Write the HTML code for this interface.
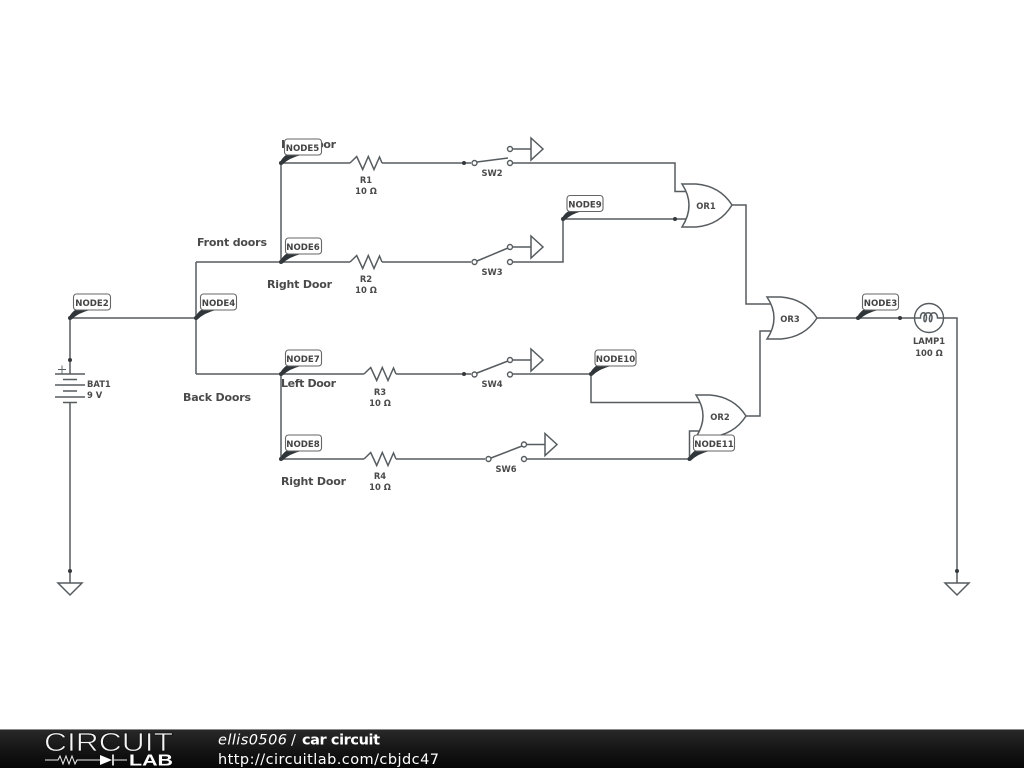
<!DOCTYPE html>
<html><head><meta charset="utf-8"><style>
html,body{margin:0;padding:0;background:#fff;width:1024px;height:768px;overflow:hidden}
svg{display:block}
.w{fill:none;stroke:#565c5f;stroke-width:1.5}
.c{fill:#fff;stroke:#565c5f;stroke-width:1.4}
.d{fill:#33393c}
.f{fill:#2f3538}
.b{fill:#fff;stroke:#666;stroke-width:1.1}
.n{font:bold 8.6px "DejaVu Sans",sans-serif;fill:#444;text-anchor:middle}
.l{font:bold 8.4px "DejaVu Sans",sans-serif;fill:#4a4a4a;text-anchor:middle}
.t{font:bold 11px "DejaVu Sans",sans-serif;fill:#4a4a4a}
#ckt{filter:blur(.3px)}
</style></head><body>
<svg width="1024" height="768" viewBox="0 0 1024 768" xmlns="http://www.w3.org/2000/svg">
<defs><linearGradient id="g" x1="0" y1="0" x2="0" y2="1"><stop offset="0" stop-color="#2a2a2a"/><stop offset="0.5" stop-color="#161616"/><stop offset="1" stop-color="#060606"/></linearGradient></defs>
<rect width="1024" height="768" fill="#fff"/>
<g id="ckt">
<!-- wires -->
<path class="w" d="M70 318H196M196 262V374M196 262H350M281 163V262M281 163H350M382 163H471M382 262H471M196 374H364M281 374V459M281 459H364M396 374H471M396 459H485"/>
<path class="w" d="M70 318V374M70 402V583M58 583H82L70 595Z"/>
<path class="w" d="M513 163H675V191.500H687M513 262H563V219H687"/>
<path class="w" d="M513 374H591V402.500H701M527 459H689.500V431H700"/>
<path class="w" d="M732 205H746V304H772M746 416H760V331H772M817 318H914M944 318H957V583M945 583H969L957 595Z"/>

<!-- resistors -->
<path class="w" d="M350 163l6.700-6.500 6 13 5.600-13 5.700 13 5.500-12.500 2.500 6"/>
<path class="w" d="M350 262l6.700-6.500 6 13 5.600-13 5.700 13 5.500-12.500 2.500 6"/>
<path class="w" d="M364 374l6.700-6.500 6 13 5.600-13 5.700 13 5.500-12.500 2.500 6"/>
<path class="w" d="M364 459l6.700-6.500 6 13 5.600-13 5.700 13 5.500-12.500 2.500 6"/>

<!-- switches -->
<g>
<path class="w" d="M477 162L508 158M513 149H531M531 138L543 149L531 160Z"/>
<circle class="c" cx="474.500" cy="163" r="2.500"/><circle class="c" cx="510" cy="149" r="2.500"/><circle class="c" cx="510" cy="163" r="2.500"/>
<path class="w" d="M477 261L508 248M513 247H531M531 236L543 247L531 258Z"/>
<circle class="c" cx="474.500" cy="262" r="2.500"/><circle class="c" cx="510" cy="247" r="2.500"/><circle class="c" cx="510" cy="262" r="2.500"/>
<path class="w" d="M477 373L508 361M513 360H531M531 349L543 360L531 371Z"/>
<circle class="c" cx="474.500" cy="374.500" r="2.500"/><circle class="c" cx="510" cy="360" r="2.500"/><circle class="c" cx="510" cy="374.500" r="2.500"/>
<path class="w" d="M491 458L522 446M527 444.500H545M545 433.500L557 444.500L545 455.500Z"/>
<circle class="c" cx="488.500" cy="459" r="2.500"/><circle class="c" cx="524" cy="444.500" r="2.500"/><circle class="c" cx="524" cy="459" r="2.500"/>
</g>

<!-- OR gates -->
<path class="w" style="fill:#fff" d="M682 184Q696 205 682 227H696Q720 225 732 205Q720 186 696 184Z"/>
<path class="w" style="fill:#fff" d="M767 297Q781 318 767 339H781Q805 337 817 318Q805 299 781 297Z"/>
<path class="w" style="fill:#fff" d="M696 395Q710 416 696 437H710Q734 435 746 416Q734 397 710 395Z"/>

<!-- battery -->
<path class="w" d="M55 374H85M63 379.500H77M55 385H85M63 391H77M55 397H85M63 402.500H77"/>
<path class="w" style="stroke-width:.9" d="M58 369.500H66M62 365.500V373.500"/>

<!-- lamp -->
<circle class="c" cx="929" cy="318" r="14.500" style="fill:#fff"/>
<path class="w" d="M914.500 318H920.500C920 311 927 311 926.500 318C926 323 923.500 323 924 318C924 311 932.500 311 932 318C931.500 323 929 323 929.500 318C930 311 937.500 311 937.500 318H943.500"/>

<!-- dots -->
<g class="d">
<circle cx="464" cy="163" r="2"/><circle cx="464" cy="374" r="2"/>
<circle cx="675" cy="219" r="2"/><circle cx="70" cy="360" r="2"/><circle cx="900" cy="318" r="2"/>
<circle cx="70" cy="571" r="2"/><circle cx="957" cy="571" r="2"/>
</g>

<!-- component labels -->
<text class="l" x="366" y="183">R1</text><text class="l" x="366" y="194">10 Ω</text>
<text class="l" x="366" y="282">R2</text><text class="l" x="366" y="293">10 Ω</text>
<text class="l" x="380" y="395">R3</text><text class="l" x="380" y="406">10 Ω</text>
<text class="l" x="380" y="479">R4</text><text class="l" x="380" y="490">10 Ω</text>
<text class="l" x="492" y="176">SW2</text><text class="l" x="492" y="275">SW3</text>
<text class="l" x="492" y="387">SW4</text><text class="l" x="506" y="472">SW6</text>
<text class="l" x="706" y="209">OR1</text><text class="l" x="790" y="322">OR3</text><text class="l" x="720" y="420">OR2</text>
<text class="l" x="929" y="344">LAMP1</text><text class="l" x="929" y="356">100 Ω</text>
<text class="l" x="87" y="387" style="text-anchor:start">BAT1</text><text class="l" x="87" y="398" style="text-anchor:start">9 V</text>

<!-- text labels -->
<text class="t" x="281" y="148" textLength="55" lengthAdjust="spacing">Left Door</text>
<text class="t" x="197" y="246" textLength="70" lengthAdjust="spacing">Front doors</text>
<text class="t" x="267" y="288" textLength="65" lengthAdjust="spacing">Right Door</text>
<text class="t" x="183" y="401" textLength="68" lengthAdjust="spacing">Back Doors</text>
<text class="t" x="281" y="387" textLength="55" lengthAdjust="spacing">Left Door</text>
<text class="t" x="281" y="485" textLength="65" lengthAdjust="spacing">Right Door</text>

<!-- node flags -->
<g>
<path class="f" d="M68.500 318Q71 313 75 310H90Q78 313 71.500 319.500Z"/><circle class="d" cx="70" cy="318" r="2"/><rect class="b" x="73.500" y="294" width="37" height="16" rx="3"/><text class="n" x="92" y="306">NODE2</text>
<path class="f" d="M194.500 318Q197 313 201 310H216Q204 313 197.500 319.500Z"/><circle class="d" cx="196" cy="318" r="2"/><rect class="b" x="200.500" y="294" width="36" height="16" rx="3"/><text class="n" x="218.500" y="306">NODE4</text>
<path class="f" d="M279.500 163Q282 158 286 155H301Q289 158 282.500 164.500Z"/><circle class="d" cx="281" cy="163" r="2"/><rect class="b" x="284.500" y="139" width="37" height="16" rx="3"/><text class="n" x="302.500" y="151">NODE5</text>
<path class="f" d="M279.500 262Q282 257 286 254H301Q289 257 282.500 263.500Z"/><circle class="d" cx="281" cy="262" r="2"/><rect class="b" x="285.500" y="238" width="36" height="16" rx="3"/><text class="n" x="303" y="250">NODE6</text>
<path class="f" d="M279.500 374Q282 369 286 366H301Q289 369 282.500 375.500Z"/><circle class="d" cx="281" cy="374" r="2"/><rect class="b" x="285.500" y="350" width="36" height="16" rx="3"/><text class="n" x="303" y="362">NODE7</text>
<path class="f" d="M279.500 459Q282 454 286 451H301Q289 454 282.500 460.500Z"/><circle class="d" cx="281" cy="459" r="2"/><rect class="b" x="285.500" y="435" width="36" height="16" rx="3"/><text class="n" x="303" y="447">NODE8</text>
<path class="f" d="M561.500 219Q564 214 568 211.500H581Q571 214 564.500 220.500Z"/><circle class="d" cx="563" cy="219" r="2"/><rect class="b" x="567" y="195.500" width="36" height="16" rx="3"/><text class="n" x="585" y="207.500">NODE9</text>
<path class="f" d="M589.500 374Q592 369 596 366H611Q599 369 592.500 375.500Z"/><circle class="d" cx="591" cy="374" r="2"/><rect class="b" x="595" y="350" width="41" height="16" rx="3"/><text class="n" x="615.500" y="362">NODE10</text>
<path class="f" d="M688 459Q690.500 454 694.500 451H709.500Q697.500 454 691 460.500Z"/><circle class="d" cx="689.500" cy="459" r="2"/><rect class="b" x="693.500" y="435" width="41" height="16" rx="3"/><text class="n" x="714" y="447">NODE11</text>
<path class="f" d="M856.500 318Q859 313 863 310H878Q866 313 859.500 319.500Z"/><circle class="d" cx="858" cy="318" r="2"/><rect class="b" x="862.500" y="294" width="36" height="16" rx="3"/><text class="n" x="880.500" y="306">NODE3</text>
</g>
</g>

<!-- footer -->
<rect x="0" y="729" width="1024" height="39" fill="url(#g)"/>
<rect x="0" y="729" width="1024" height="1" fill="#8a8a8a"/>
<text x="44" y="751" textLength="129" lengthAdjust="spacingAndGlyphs" style="font:26px 'Liberation Sans',sans-serif;fill:#f4f4f4;stroke:#111;stroke-width:.7">CIRCUIT</text>
<path d="M45 760H58l2-4 3 8 3-8 3 8 3-8 3 8 2-4H100M114 760H127" fill="none" stroke="#eee" stroke-width="1"/>
<path d="M100 755L112 760L100 765Z" fill="#fff"/><path d="M113 754.500V765.500" stroke="#fff" stroke-width="1.600"/>
<text x="129" y="765.500" textLength="44" lengthAdjust="spacingAndGlyphs" style="font:bold 15.500px 'Liberation Sans',sans-serif;fill:#fff">LAB</text>
<text x="218" y="744.500" textLength="69" lengthAdjust="spacing" style="font:italic 14.500px 'DejaVu Sans',sans-serif;fill:#fff">ellis0506</text>
<text x="291" y="744.500" style="font:14.500px 'DejaVu Sans',sans-serif;fill:#fff">/</text>
<text x="302" y="744.500" textLength="78" lengthAdjust="spacing" style="font:bold 14.500px 'DejaVu Sans',sans-serif;fill:#fff">car circuit</text>
<text x="218" y="764" textLength="221" lengthAdjust="spacing" style="font:14.500px 'DejaVu Sans',sans-serif;fill:#fff">http://circuitlab.com/cbjdc47</text>
</svg>
</body></html>
